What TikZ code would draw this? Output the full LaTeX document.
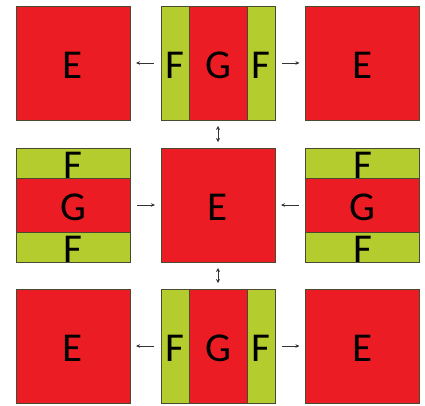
\documentclass[tikz,border=0pt]{standalone}
\usepackage{fontspec}
\setmainfont{Carlito}
\usetikzlibrary{arrows.meta}
\definecolor{cred}{HTML}{EC1C24}
\definecolor{cgreen}{HTML}{B4CC2E}
\definecolor{cedge}{HTML}{4A4A30}
\tikzset{
  box/.style={draw=cedge, line width=0.5pt, inner sep=0pt, outer sep=0pt,
    font=\fontsize{41}{41}\selectfont, text=black, text height=30pt, text depth=0pt},
  redsq/.style={box, fill=cred, minimum width=114pt, minimum height=114pt},
  vgreen/.style={box, fill=cgreen, minimum width=28pt, minimum height=114pt},
  hgreen/.style={box, fill=cgreen, minimum width=114pt, minimum height=29pt},
  arr/.style={-{Stealth[length=4pt,width=3.5pt]}, line width=0.6pt, black!80,
    shorten <=7pt, shorten >=6pt},
  darr/.style={{Stealth[length=4pt,width=4pt]}-{Stealth[length=4pt,width=4pt]},
    line width=0.6pt, black!80, shorten <=6pt, shorten >=6pt},
}
\begin{document}
\begin{tikzpicture}[x=1pt,y=-1pt]
\useasboundingbox (0,0) rectangle (425,405);
% Row 1
\node[redsq] (a1) at (73,63) {E};
\node[redsq] (b1) at (218,63) {G};
\node[vgreen, anchor=west] (b1l) at (b1.west) {F};
\node[vgreen, anchor=east] (b1r) at (b1.east) {F};
\node[redsq] (c1) at (362.5,63) {E};
% Row 2
\node[redsq] (a2) at (73,205) {G};
\node[hgreen, anchor=north] (a2t) at (a2.north) {F};
\node[hgreen, anchor=south] (a2b) at (a2.south) {F};
\node[redsq] (b2) at (218,205) {E};
\node[redsq] (c2) at (362.5,205) {G};
\node[hgreen, anchor=north] (c2t) at (c2.north) {F};
\node[hgreen, anchor=south] (c2b) at (c2.south) {F};
% Row 3
\node[redsq] (a3) at (73,346) {E};
\node[redsq] (b3) at (218,346) {G};
\node[vgreen, anchor=west] (b3l) at (b3.west) {F};
\node[vgreen, anchor=east] (b3r) at (b3.east) {F};
\node[redsq] (c3) at (362.5,346) {E};
% Arrows
\draw[arr] (b1l.west) -- (a1.east);
\draw[arr] (b1r.east) -- (c1.west);
\draw[arr] (a2.east) -- (b2.west);
\draw[arr] (c2.west) -- (b2.east);
\draw[arr] (b3l.west) -- (a3.east);
\draw[arr] (b3r.east) -- (c3.west);
\draw[darr] (b1.south) -- (b2.north);
\draw[darr] (b2.south) -- (b3.north);
\end{tikzpicture}
\end{document}
